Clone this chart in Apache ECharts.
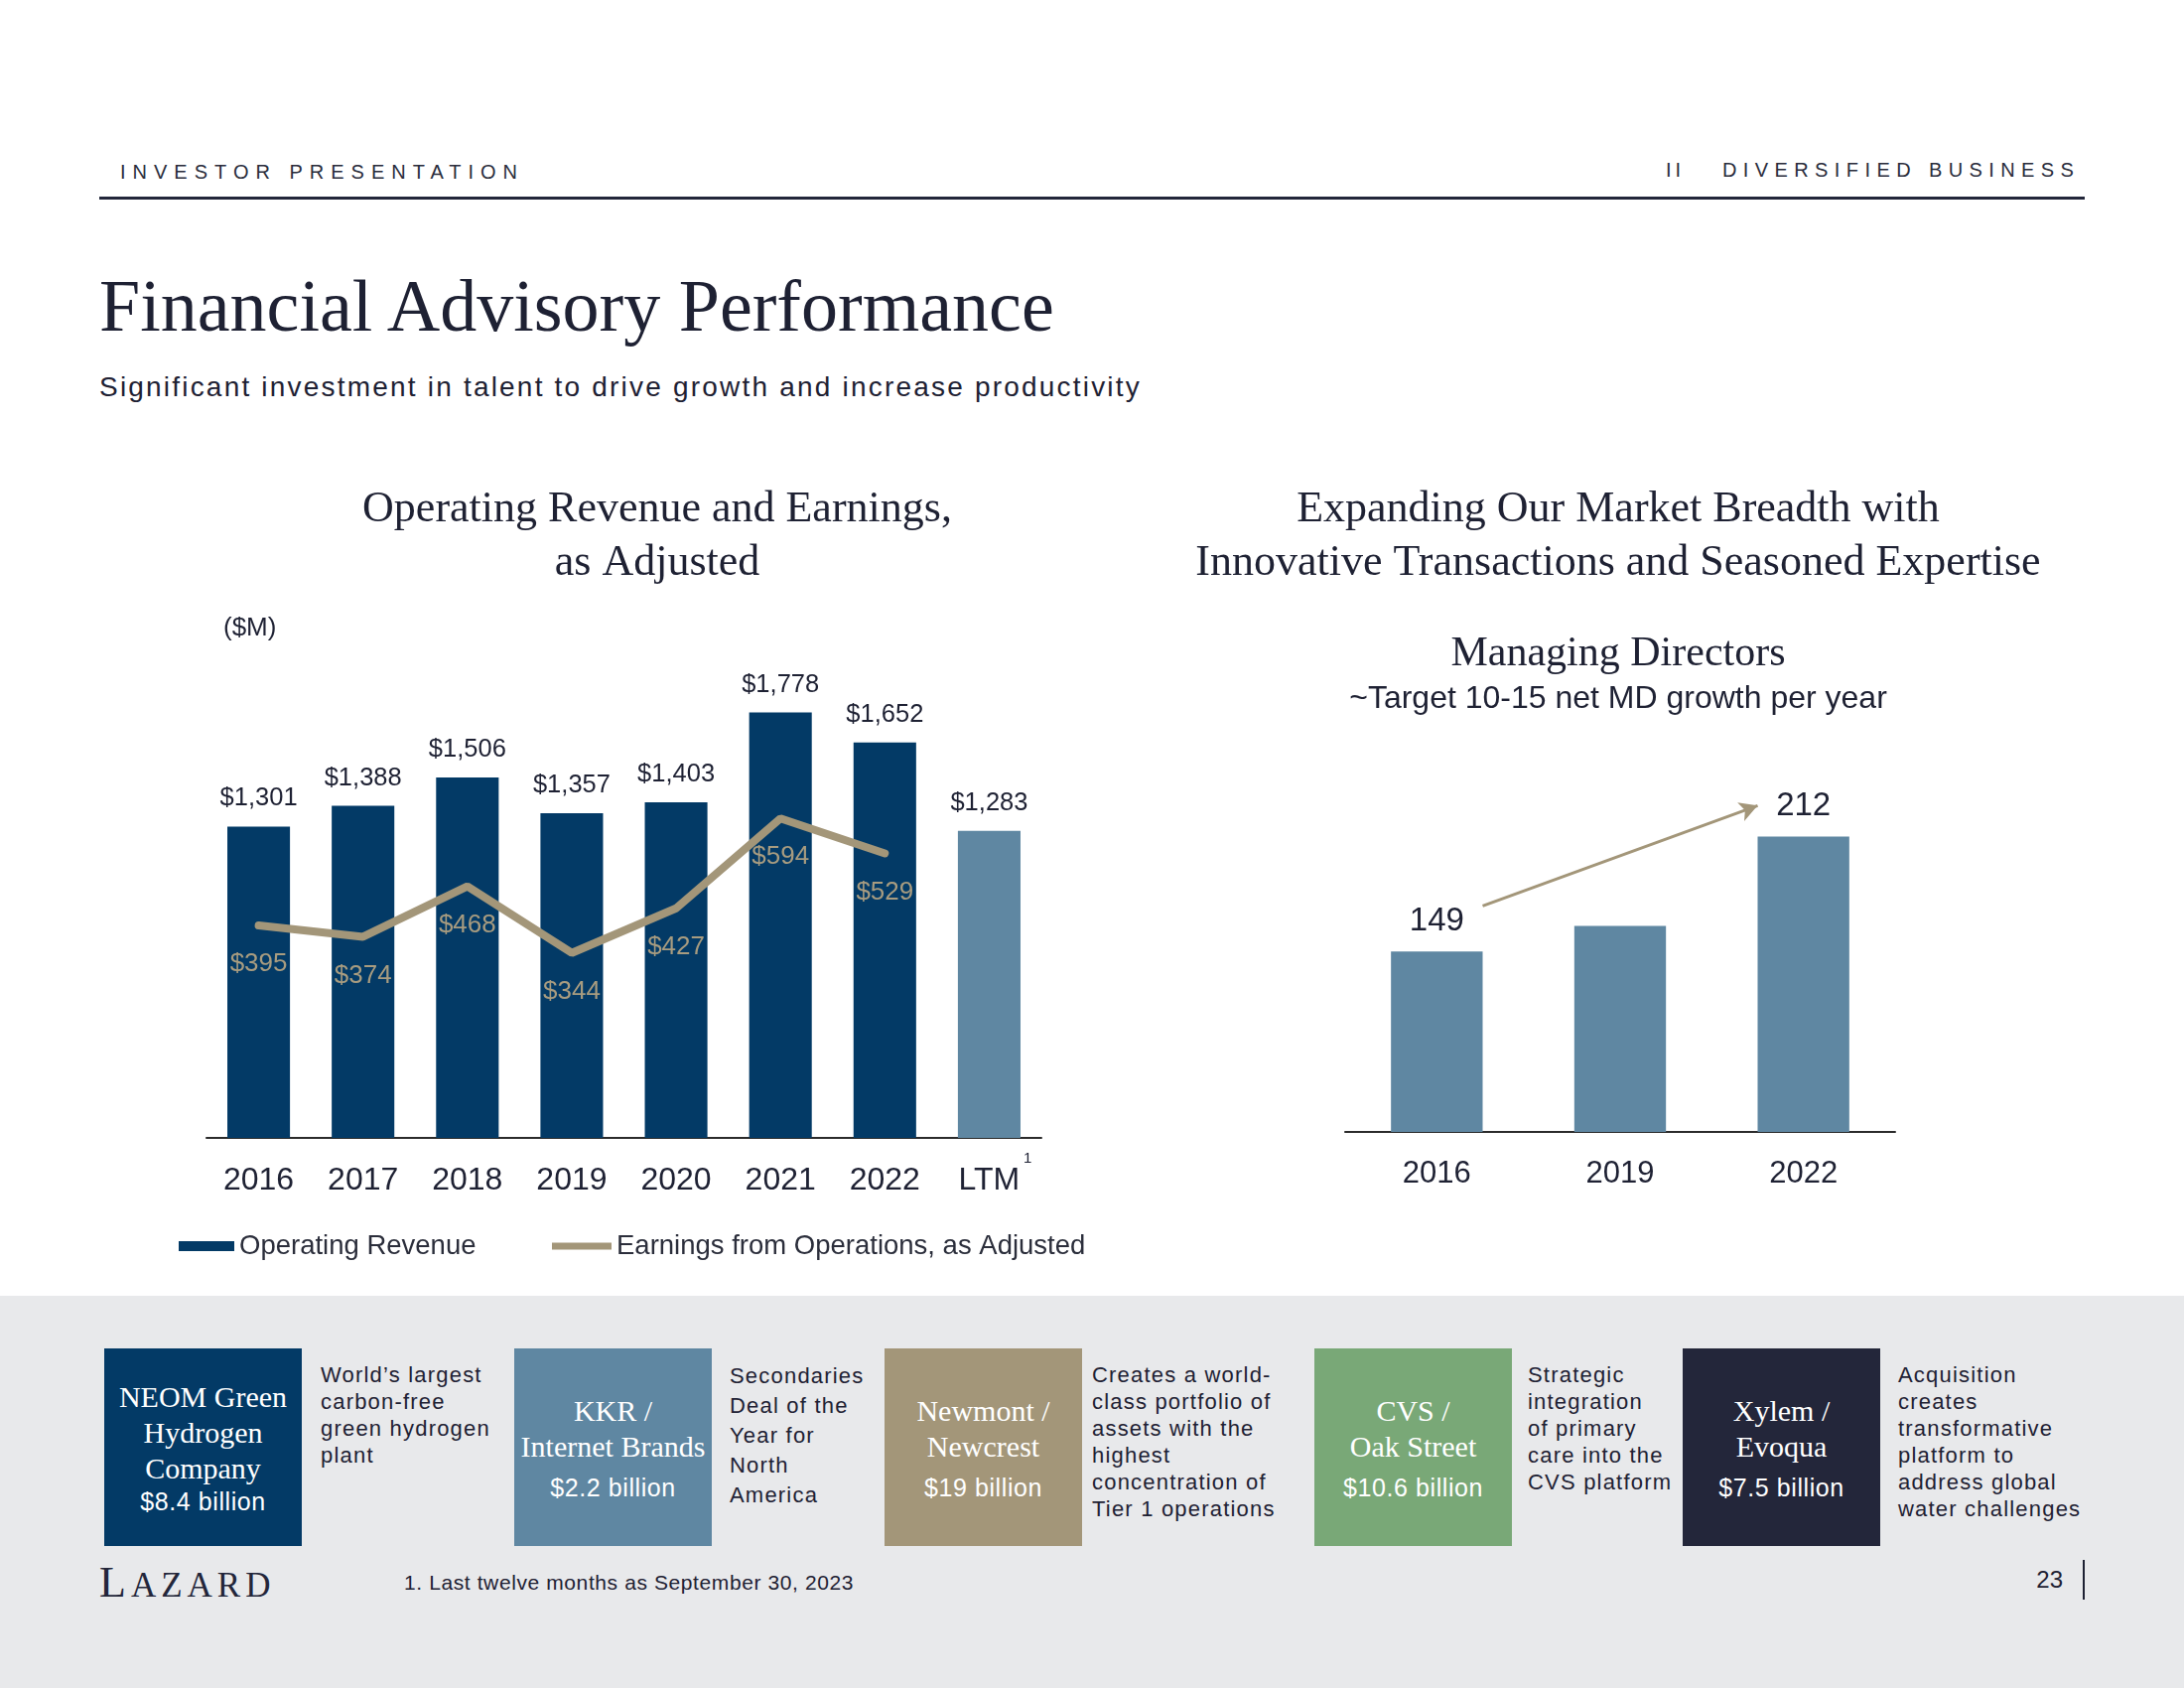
<!DOCTYPE html>
<html><head><meta charset="utf-8">
<script src="https://cdn.jsdelivr.net/npm/echarts@6/dist/echarts.min.js"></script>
<style>
html,body{margin:0;padding:0;background:#fff;}
#page{position:relative;width:2200px;height:1700px;overflow:hidden;background:#fff;font-family:'Liberation Sans',Arial,sans-serif;color:#1e2133;}
.abs{position:absolute;white-space:nowrap;}
#chart{position:absolute;left:0;top:0;width:2200px;height:1700px;z-index:2;}
.hdr{font-size:20px;letter-spacing:7px;line-height:20px;color:#2a2d3c;}
.box{position:absolute;top:1358px;width:199px;height:199px;display:flex;flex-direction:column;justify-content:center;align-items:center;color:#fff;text-align:center;}
.box .nm{font-family:'Liberation Serif',serif;font-size:30px;line-height:36px;}
.box .amt{font-size:25px;line-height:30px;letter-spacing:0.6px;}
.desc{position:absolute;top:1371px;font-size:22px;letter-spacing:1.2px;color:#1e2133;white-space:nowrap;}
</style></head>
<body><div id="page">
<div class="abs hdr" style="left:121px;top:163px;">INVESTOR PRESENTATION</div>
<div class="abs hdr" style="left:1678px;top:161px;letter-spacing:4px;">II</div>
<div class="abs hdr" style="left:1735px;top:161px;letter-spacing:6.4px;">DIVERSIFIED BUSINESS</div>
<div class="abs" style="left:100px;top:198px;width:2000px;height:3px;background:#23263a;"></div>
<div class="abs" style="left:100px;top:271px;font-family:'Liberation Serif',serif;font-size:74px;line-height:74px;color:#1e2133;">Financial Advisory Performance</div>
<div class="abs" style="left:100px;top:376px;font-size:28px;line-height:28px;letter-spacing:2.2px;color:#1e2133;">Significant investment in talent to drive growth and increase productivity</div>
<div class="abs" style="left:0;top:1305px;width:2200px;height:395px;background:#e8e9eb;"></div>
<div id="deals"></div>
<div class="abs" style="left:100px;top:1568px;font-family:'Liberation Serif',serif;color:#23263a;letter-spacing:5px;"><span style="font-size:44px;">L</span><span style="font-size:35px;">AZARD</span></div>
<div class="abs" style="left:407px;top:1582px;font-size:21px;line-height:24px;letter-spacing:0.6px;color:#1e2133;">1. Last twelve months as September 30, 2023</div>
<div class="abs" style="left:2038px;top:1578px;width:40px;text-align:right;font-size:24px;line-height:26px;color:#1e2133;">23</div>
<div class="abs" style="left:2098px;top:1571px;width:2px;height:40px;background:#1e2133;"></div>
<div id="chart"></div>
</div>
<script>
// ---- chart data ----
const years = ['2016', '2017', '2018', '2019', '2020', '2021', '2022', 'LTM'];
const revenue = [1301, 1388, 1506, 1357, 1403, 1778, 1652, 1283];
const earnings = [395, 374, 468, 344, 427, 594, 529, null];
const mdYears = ['2016', '2019', '2022'];
const mdCount = [149, 163, 212];
const mdLabelShown = [true, false, true];
const arrowFrom = [0.25, 174];
const arrowTo = [1.75, 229];

// ---- slide panel (deal boxes) ----
const dealNames = [['NEOM Green', 'Hydrogen', 'Company'], ['KKR /', 'Internet Brands'], ['Newmont /', 'Newcrest'], ['CVS /', 'Oak Street'], ['Xylem /', 'Evoqua']];
const dealAmounts = ['$8.4 billion', '$2.2 billion', '$19 billion', '$10.6 billion', '$7.5 billion'];
const dealDescs = [
  ['World\u2019s largest', 'carbon-free', 'green hydrogen', 'plant'],
  ['Secondaries', 'Deal of the', 'Year for', 'North', 'America'],
  ['Creates a world-', 'class portfolio of', 'assets with the', 'highest', 'concentration of', 'Tier 1 operations'],
  ['Strategic', 'integration', 'of primary', 'care into the', 'CVS platform'],
  ['Acquisition', 'creates', 'transformative', 'platform to', 'address global', 'water challenges']
];
const dealColors = ['#033a66', '#5f87a2', '#a39679', '#79a877', '#23263a'];
const boxX = [105, 518, 891, 1324, 1695];
const descX = [323, 735, 1100, 1539, 1912];
const descLH = [27, 30, 27, 27, 27];
const amtGap = [0, 8, 8, 8, 8];
let html = '';
dealNames.forEach((nm, i) => {
  html += '<div class="box" style="left:' + boxX[i] + 'px;background:' + dealColors[i] + ';">' +
    nm.map(t => '<div class="nm">' + t + '</div>').join('') +
    '<div class="amt" style="margin-top:' + amtGap[i] + 'px;">' + dealAmounts[i] + '</div></div>';
  html += '<div class="desc" style="left:' + descX[i] + 'px;line-height:' + descLH[i] + 'px;">' + dealDescs[i].join('<br>') + '</div>';
});
document.getElementById('deals').innerHTML = html;

// ---- chart ----
const NAVY = '#033a66', STEEL = '#5f87a2', TAN = '#a39679', TXT = '#1e2133';
const SANS = 'Liberation Sans';
const SERIF = 'Liberation Serif';
const chart = echarts.init(document.getElementById('chart'), null, {renderer: 'canvas'});
const serifTitle = {fontFamily: SERIF, fontSize: 44, lineHeight: 54, color: TXT, fontWeight: 'normal'};
chart.setOption({
  animation: false,
  backgroundColor: 'transparent',
  title: [
    {text: 'Operating Revenue and Earnings,\nas Adjusted', left: 662, top: 486, textAlign: 'center', padding: 0, textStyle: serifTitle},
    {text: 'Expanding Our Market Breadth with\nInnovative Transactions and Seasoned Expertise', left: 1630, top: 486, textAlign: 'center', padding: 0, textStyle: serifTitle},
    {text: 'Managing Directors', left: 1630, top: 632, textAlign: 'center', padding: 0,
      textStyle: {fontFamily: SERIF, fontSize: 42, lineHeight: 54, color: TXT, fontWeight: 'normal'}},
    {text: '~Target 10-15 net MD growth per year', left: 1630, top: 686, textAlign: 'center', padding: 0,
      textStyle: {fontFamily: SANS, fontSize: 32, lineHeight: 36, color: TXT, fontWeight: 'normal'}},
    {text: '($M)', left: 225, top: 618, padding: 0,
      textStyle: {fontFamily: SANS, fontSize: 26, lineHeight: 30, color: TXT, fontWeight: 'normal'}}
  ],
  legend: [
    {data: ['Operating Revenue'], left: 180, top: 1241, icon: 'rect', itemWidth: 56, itemHeight: 10, padding: 0,
      textStyle: {fontFamily: SANS, fontSize: 27.5, color: '#2b2e3b'}},
    {data: ['Earnings from Operations, as Adjusted'], left: 556, top: 1241, icon: 'rect', itemWidth: 60, itemHeight: 7, padding: 0,
      textStyle: {fontFamily: SANS, fontSize: 27.5, color: '#2b2e3b'}}
  ],
  grid: [
    {left: 208, top: 664, width: 841, height: 482},
    {left: 1355, top: 681, width: 554, height: 459}
  ],
  xAxis: [
    {type: 'category', gridIndex: 0, data: years,
      axisLine: {lineStyle: {color: '#2b2b2b', width: 2}}, axisTick: {show: false},
      axisLabel: {margin: 13, interval: 0,
        formatter: v => v === 'LTM' ? '{b|LTM}{s|1}' : '{a|' + v + '}',
        rich: {
          a: {fontFamily: SANS, fontSize: 32, lineHeight: 60, color: TXT},
          b: {fontFamily: SANS, fontSize: 32, lineHeight: 60, color: TXT, padding: [0, 0, 0, 12]},
          s: {fontFamily: SANS, fontSize: 15, lineHeight: 16, color: TXT, verticalAlign: 'top', padding: [0, 0, 0, 4]}
        }}},
    {type: 'category', gridIndex: 1, data: mdYears,
      axisLine: {lineStyle: {color: '#2b2b2b', width: 2}}, axisTick: {show: false},
      axisLabel: {margin: 27, fontFamily: SANS, fontSize: 31, lineHeight: 30, color: TXT}},
    {type: 'value', gridIndex: 1, min: -0.5, max: 2.5, show: false}
  ],
  yAxis: [
    {type: 'value', gridIndex: 0, min: 0, max: 2000, show: false, splitLine: {show: false}},
    {type: 'value', gridIndex: 0, min: 0, max: 890, show: false, splitLine: {show: false}},
    {type: 'value', gridIndex: 1, min: 50, max: 300, show: false, splitLine: {show: false}}
  ],
  series: [
    {name: 'Operating Revenue', type: 'bar', xAxisIndex: 0, yAxisIndex: 0, barWidth: '60%',
      itemStyle: {color: NAVY},
      data: revenue.map((v, i) => ({value: v, itemStyle: {color: years[i] === 'LTM' ? STEEL : NAVY}})),
      label: {show: true, position: 'top', distance: 15, fontFamily: SANS, fontSize: 25.5, color: TXT,
        formatter: p => '$' + p.value.toLocaleString('en-US')}},
    {name: 'Earnings from Operations, as Adjusted', type: 'line', xAxisIndex: 0, yAxisIndex: 1,
      data: earnings, symbol: 'circle', symbolSize: 2, showSymbol: true,
      itemStyle: {color: TAN}, lineStyle: {color: TAN, width: 8, cap: 'round'},
      label: {show: true, position: 'bottom', distance: 25, fontFamily: SANS, fontSize: 26, color: '#a89c80',
        formatter: p => '$' + p.value}},
    {name: 'Managing Directors', type: 'bar', xAxisIndex: 1, yAxisIndex: 2, barWidth: '50%',
      itemStyle: {color: STEEL},
      data: mdCount.map((v, i) => ({value: v, label: {show: mdLabelShown[i]}})),
      label: {position: 'top', distance: 14, fontFamily: SANS, fontSize: 33, color: TXT}},
    {name: 'MD growth', type: 'scatter', xAxisIndex: 2, yAxisIndex: 2, data: [],
      markLine: {silent: true, symbol: ['none', 'arrow'], symbolSize: [15, 18], animation: false,
        lineStyle: {color: TAN, width: 3, type: 'solid'}, label: {show: false},
        emphasis: {disabled: true},
        data: [[{coord: arrowFrom}, {coord: arrowTo}]]}}
  ]
});
</script>
</body></html>
